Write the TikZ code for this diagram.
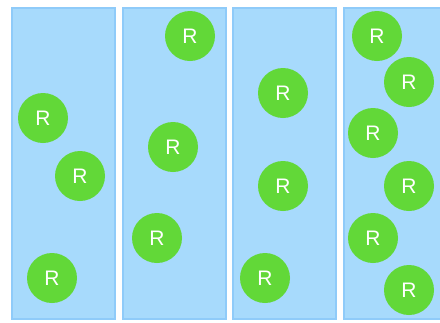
\documentclass[tikz,border=0pt]{standalone}
\usepackage{fontspec}
\setmainfont{Liberation Sans}
\usetikzlibrary{positioning}

\definecolor{laneFill}{HTML}{A7DAFC}
\definecolor{laneEdge}{HTML}{8FCBF9}
\definecolor{replicaGreen}{HTML}{62D838}

\begin{document}
\begin{tikzpicture}[x=1pt, y=-1pt]
	% Configurable lengths
	\def\laneWidth{103}
	\def\laneHeight{311}
	\def\laneTop{7}

	% Styles
	\tikzstyle{lane}=[draw=laneEdge, fill=laneFill, line width=2pt, rectangle, anchor=north west, minimum width=\laneWidth pt, minimum height=\laneHeight pt, inner sep=0pt]
	\tikzstyle{replica}=[circle, fill=replicaGreen, minimum size=50pt, inner sep=0pt, text=white, font={\fontsize{21}{21}\selectfont}]

	\clip (0,0) rectangle (440,322);

	% Lanes
	\node[lane] (laneA) at (11,\laneTop) {};
	\node[lane] (laneB) at (121.5,\laneTop) {};
	\node[lane] (laneC) at (232,\laneTop) {};
	\node[lane] (laneD) at (342.5,\laneTop) {};

	% Replicas in lane A
	\node[replica] (a1) at (43,118) {R};
	\node[replica] (a2) at (80,176) {R};
	\node[replica] (a3) at (52,278) {R};

	% Replicas in lane B
	\node[replica] (b1) at (190,36) {R};
	\node[replica] (b2) at (173,147) {R};
	\node[replica] (b3) at (157,238) {R};

	% Replicas in lane C
	\node[replica] (c1) at (283,93) {R};
	\node[replica] (c2) at (283,186) {R};
	\node[replica] (c3) at (265,278) {R};

	% Replicas in lane D
	\node[replica] (d1) at (377,36) {R};
	\node[replica] (d2) at (409,82) {R};
	\node[replica] (d3) at (373,133) {R};
	\node[replica] (d4) at (409,186) {R};
	\node[replica] (d5) at (373,238) {R};
	\node[replica] (d6) at (409,290) {R};
\end{tikzpicture}
\end{document}
